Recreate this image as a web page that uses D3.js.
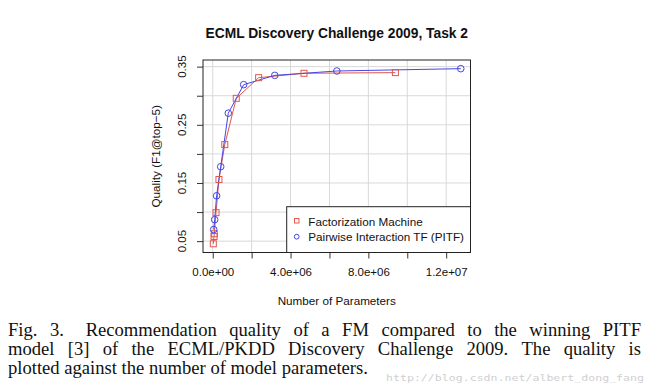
<!DOCTYPE html>
<html><head><meta charset="utf-8">
<script src="https://cdn.jsdelivr.net/npm/d3@7"></script>
<style>
html,body{margin:0;padding:0;background:#fff;}
svg{display:block;}
</style></head>
<body>
<svg id="chart" width="650" height="390"></svg>
<script>
// ---- data ----
const fmParams   = [0.03e6, 0.07e6, 0.08e6, 0.17e6, 0.32e6, 0.62e6, 1.21e6, 2.36e6, 4.69e6, 9.39e6];
const fmQuality  = [0.0455, 0.058, 0.0627, 0.099, 0.156, 0.216, 0.2955, 0.331, 0.3386, 0.3397];
const pitfParams = [0.05e6, 0.10e6, 0.20e6, 0.41e6, 0.80e6, 1.59e6, 3.19e6, 6.38e6, 12.75e6];
const pitfQuality= [0.070, 0.087, 0.128, 0.178, 0.270, 0.319, 0.335, 0.3425, 0.3465];
const xTicks = [0, 2e6, 4e6, 6e6, 8e6, 10e6, 12e6];
const xTickLabels = ["0.0e+00", "", "4.0e+06", "", "8.0e+06", "", "1.2e+07"];
const yTicks = [0.05, 0.10, 0.15, 0.20, 0.25, 0.30, 0.35];
const yTickLabels = ["0.05", "", "0.15", "", "0.25", "", "0.35"];
const seriesNames = ["Factorization Machine", "Pairwise Interaction TF (PITF)"];
const title = "ECML Discovery Challenge 2009, Task 2";
const xTitle = "Number of Parameters";
const yTitle = "Quality (F1@top\u22125)";
const captionLines = [
  "Fig. 3.\u2002 Recommendation quality of a FM compared to the winning PITF",
  "model [3] of the ECML/PKDD Discovery Challenge 2009. The quality is",
  "plotted against the number of model parameters."
];
const watermark = "http://blog.csdn.net/albert_dong_fang";

// ---- layout ----
const box = {l: 203, r: 470.5, t: 60, b: 252.5};
const redC = "#e0584f", blueC = "#4646e6";
const sans = "'Liberation Sans', Arial, Helvetica, sans-serif";
const serif = "'Liberation Serif', 'Times New Roman', serif";
const capSize = 18.6;

const svg = d3.select("#chart");
const x = d3.scaleLinear().domain([-0.5e6, 13.25e6]).range([box.l, box.r]);
const y = d3.scaleLinear().domain([0.0305, 0.3614]).range([box.b, box.t]);

// grid
const g = svg.append("g");
g.selectAll(".vg").data(xTicks).join("line")
  .attr("x1", d => x(d)).attr("x2", d => x(d)).attr("y1", box.t).attr("y2", box.b)
  .attr("stroke", "#d9d9d9").attr("stroke-width", 1);
g.selectAll(".hg").data(yTicks).join("line")
  .attr("y1", d => y(d)).attr("y2", d => y(d)).attr("x1", box.l).attr("x2", box.r)
  .attr("stroke", "#d9d9d9").attr("stroke-width", 1);

// axes (R style)
const xAxis = d3.axisBottom(x).tickValues(xTicks).tickSize(6).tickPadding(9)
  .tickFormat((d, i) => xTickLabels[i]);
const xa = svg.append("g").attr("transform", `translate(0,${box.b})`).call(xAxis);
xa.select(".domain").remove();
xa.selectAll("line").attr("stroke", "#333");
xa.selectAll("text").attr("font-family", sans).attr("font-size", 11.5).attr("fill", "#111");

const yAxis = d3.axisLeft(y).tickValues(yTicks).tickSize(6).tickFormat("");
const ya = svg.append("g").attr("transform", `translate(${box.l},0)`).call(yAxis);
ya.select(".domain").remove();
ya.selectAll("line").attr("stroke", "#333");
svg.selectAll(".ylab").data(yTicks).join("text")
  .attr("transform", d => `translate(186,${y(d)}) rotate(-90)`)
  .attr("text-anchor", "middle")
  .attr("font-family", sans).attr("font-size", 11.5).attr("fill", "#111")
  .text((d, i) => yTickLabels[i]);

// lines
const line = d3.line().x(d => x(d[0])).y(d => y(d[1]));
const fmData = fmParams.map((p, i) => [p, fmQuality[i]]);
const pitfData = pitfParams.map((p, i) => [p, pitfQuality[i]]);
svg.append("path").datum(fmData).attr("d", line).attr("fill", "none")
  .attr("stroke", redC).attr("stroke-width", 1);
svg.append("path").datum(pitfData).attr("d", line).attr("fill", "none")
  .attr("stroke", blueC).attr("stroke-width", 1);
svg.selectAll(".sq").data(fmData).join("rect")
  .attr("x", d => x(d[0]) - 3).attr("y", d => y(d[1]) - 3)
  .attr("width", 6).attr("height", 6)
  .attr("fill", "none").attr("stroke", redC).attr("stroke-width", 1);
svg.selectAll(".ci").data(pitfData).join("circle")
  .attr("cx", d => x(d[0])).attr("cy", d => y(d[1])).attr("r", 3.3)
  .attr("fill", "none").attr("stroke", blueC).attr("stroke-width", 1);

// legend
const lg = svg.append("g");
lg.append("rect").attr("x", 286.7).attr("y", 206.7).attr("width", box.r - 286.7).attr("height", box.b - 206.7)
  .attr("fill", "#fff").attr("stroke", "#222").attr("stroke-width", 1);
lg.append("rect").attr("x", 294.5).attr("y", 218.5).attr("width", 4.5).attr("height", 4.5)
  .attr("fill", "none").attr("stroke", redC);
lg.append("circle").attr("cx", 296.7).attr("cy", 236.7).attr("r", 2.4)
  .attr("fill", "none").attr("stroke", blueC);
lg.selectAll(".lt").data(seriesNames).join("text")
  .attr("x", 308.3).attr("y", (d, i) => 225.5 + i * 15.3)
  .attr("font-family", sans).attr("font-size", 11.7).attr("fill", "#111").text(d => d);

// plot box
svg.append("rect").attr("x", box.l).attr("y", box.t).attr("width", box.r - box.l).attr("height", box.b - box.t)
  .attr("fill", "none").attr("stroke", "#222").attr("stroke-width", 1);

// titles
svg.append("text").attr("x", (box.l + box.r) / 2).attr("y", 38).attr("text-anchor", "middle")
  .attr("font-family", sans).attr("font-weight", "bold").attr("font-size", 13.8).attr("fill", "#111").text(title);
svg.append("text").attr("x", (box.l + box.r) / 2).attr("y", 305).attr("text-anchor", "middle")
  .attr("font-family", sans).attr("font-size", 11.7).attr("fill", "#111").text(xTitle);
svg.append("text").attr("transform", `translate(160,${(box.t + box.b) / 2}) rotate(-90)`).attr("text-anchor", "middle")
  .attr("font-family", sans).attr("font-size", 11.7).attr("fill", "#111").text(yTitle);

// caption (justified lines 1-2)
const capBase = [336, 355, 374];
captionLines.forEach((ln, li) => {
  const words = ln.split(" ");
  if (li < 2) {
    const left = 8, right = 641;
    const tmp = words.map(w => svg.append("text").attr("font-family", serif).attr("font-size", capSize).text(w));
    const widths = tmp.map(t => t.node().getComputedTextLength());
    tmp.forEach(t => t.remove());
    const total = d3.sum(widths);
    const gap = (right - left - total) / (words.length - 1);
    let cx = left;
    words.forEach((w, i) => {
      svg.append("text").attr("x", cx).attr("y", capBase[li])
        .attr("font-family", serif).attr("font-size", capSize).attr("fill", "#111").text(w);
      cx += widths[i] + gap;
    });
  } else {
    svg.append("text").attr("x", 8).attr("y", capBase[li])
      .attr("font-family", serif).attr("font-size", capSize).attr("fill", "#111").text(ln);
  }
});
svg.append("text").attr("x", 386).attr("y", 381).attr("font-family", "'DejaVu Sans Mono', monospace")
  .attr("font-size", 9).attr("fill", "#d0d0d0").attr("textLength", 258).attr("lengthAdjust", "spacingAndGlyphs")
  .text(watermark);
</script>
</body></html>
